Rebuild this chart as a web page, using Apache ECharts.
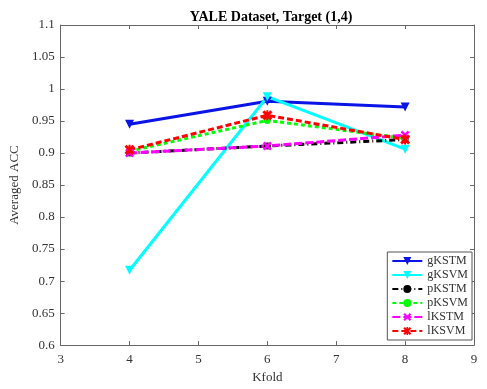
<!DOCTYPE html>
<html>
<head>
<meta charset="utf-8">
<script src="https://cdn.jsdelivr.net/npm/echarts@6/dist/echarts.min.js"></script>
<style>
  html, body { margin: 0; padding: 0; background: #fff; }
  #main { width: 487px; height: 389px; }
</style>
</head>
<body>
<div id="main"></div>
<script>
    // data
    const kfold = [4, 6, 8]
    const gKSTM = [0.945, 0.981, 0.972]
    const gKSVM = [0.717, 0.988, 0.906]
    const pKSTM = [0.900, 0.911, 0.921]
    const pKSVM = [0.903, 0.951, 0.923]
    const lKSTM = [0.900, 0.911, 0.928]
    const lKSVM = [0.905, 0.959, 0.921]
    const yTicks = [0.6, 0.65, 0.7, 0.75, 0.8, 0.85, 0.9, 0.95, 1, 1.05, 1.1]

    const font = '"Liberation Serif", "DejaVu Serif", serif'
    const axisColor = '#666666'

    // x and asterisk markers as filled shapes
    const xMark = 'path://M0,2L2,0L5,3L8,0L10,2L7,5L10,8L8,10L5,7L2,10L0,8L3,5Z'
    const starMark = 'path://M0,2L2,0L5,3L8,0L10,2L7,5L10,8L8,10L5,7L2,10L0,8L3,5Z M4,0L6,0L6,10L4,10Z'

    const mChart = echarts.init(document.getElementById('main'))

    function mkSeries(name, vals, color, symbol, lineType, size) {
        return {
            name: name,
            type: 'line',
            data: kfold.map((k, i) => [k, vals[i]]),
            symbol: symbol,
            symbolSize: size,
            symbolRotate: symbol === 'triangle' ? 180 : 0,
            lineStyle: { color: color, width: 3, type: lineType },
            itemStyle: { color: color },
            emphasis: { disabled: true }
        }
    }

    const baseX = {
        type: 'value', min: 3, max: 9, interval: 1,
        axisLine: { show: true, onZero: false, lineStyle: { color: axisColor, width: 1 } },
        axisTick: { show: true, inside: true, length: 4, lineStyle: { color: axisColor } },
        splitLine: { show: false }
    }
    const baseY = {
        type: 'value', min: 0.6, max: 1.1, interval: 0.05,
        axisLine: { show: true, onZero: false, lineStyle: { color: axisColor, width: 1 } },
        axisTick: { show: true, inside: true, length: 4, lineStyle: { color: axisColor } },
        splitLine: { show: false }
    }

    const option = {
        backgroundColor: '#ffffff',
        animation: false,
        title: {
            text: 'YALE Dataset, Target (1,4)',
            left: 266, top: 5, textAlign: 'center',
            textStyle: { fontFamily: font, fontSize: 14, fontWeight: 'bold', color: '#000' }
        },
        grid: { left: 58, right: 13, top: 25, bottom: 41 },
        xAxis: [
            Object.assign({}, baseX, {
                position: 'bottom',
                name: 'Kfold', nameLocation: 'middle', nameGap: 25,
                nameTextStyle: { fontFamily: font, fontSize: 13, color: '#333' },
                axisLabel: { fontFamily: font, fontSize: 13, color: '#333', margin: 8 }
            }),
            Object.assign({}, baseX, { position: 'top', axisLabel: { show: false } })
        ],
        yAxis: [
            Object.assign({}, baseY, {
                position: 'left',
                name: 'Averaged ACC', nameLocation: 'middle', nameGap: 31,
                nameTextStyle: { fontFamily: font, fontSize: 13, color: '#333' },
                axisLabel: {
                    fontFamily: font, fontSize: 13, color: '#333', margin: 6,
                    formatter: v => String(parseFloat(v.toFixed(2)))
                }
            }),
            Object.assign({}, baseY, { position: 'right', axisLabel: { show: false } })
        ],
        legend: {
            orient: 'vertical',
            right: 15, bottom: 49,
            itemWidth: 30, itemHeight: 10, itemGap: 2,
            padding: [3, 4, 3, 4],
            borderColor: '#555', borderWidth: 1,
            backgroundColor: '#fff',
            textStyle: { fontFamily: font, fontSize: 12, color: '#333' },
            data: ['gKSTM', 'gKSVM', 'pKSTM', 'pKSVM', 'lKSTM', 'lKSVM']
        },
        series: [
            mkSeries('gKSTM', gKSTM, '#0a14e6', 'triangle', 'solid', 9),
            mkSeries('gKSVM', gKSVM, '#00ffff', 'triangle', 'solid', 9),
            mkSeries('pKSTM', pKSTM, '#000000', 'circle', [6, 3, 1, 3], 7),
            mkSeries('pKSVM', pKSVM, '#00ff00', 'circle', [4, 3], 7),
            mkSeries('lKSTM', lKSTM, '#ff00ff', xMark, [8, 3], 9),
            mkSeries('lKSVM', lKSVM, '#ff0000', starMark, [6, 3], 10)
        ]
    }
    mChart.setOption(option)
</script>
</body>
</html>
